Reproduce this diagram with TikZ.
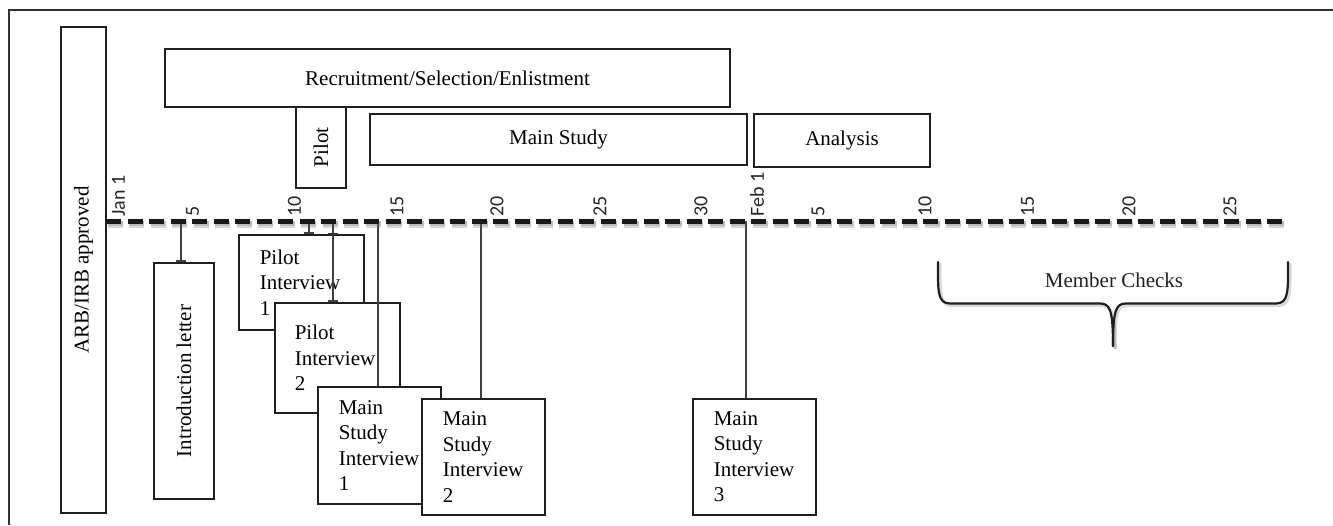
\documentclass[tikz,border=0pt]{standalone}
\usepackage{fontspec}
\setmainfont{Liberation Serif}
\newfontfamily\tickfont{Carlito}
\usetikzlibrary{arrows.meta,calc}
\begin{document}
\begin{tikzpicture}[x=1pt,y=-1pt,
  boxline/.style={draw=black!88, line width=1.6pt},
  phase/.style={boxline, fill=white, inner sep=0pt, font=\fontsize{21}{25}\selectfont},
  vphase/.style={phase, rotate=90},
  ibox/.style={boxline, fill=white, align=left, inner xsep=21pt, inner ysep=0pt,
    anchor=north west, font=\fontsize{21}{25.5}\selectfont},
  ticklab/.style={rotate=90, anchor=west, inner sep=0pt, font=\tickfont\fontsize{20}{20}\selectfont, text=black!85},
  conn/.style={draw=black!75, line width=1.1pt},
  barend/.style={conn, -{Bar[width=10pt, line width=2pt]}},
  shadowline/.style={black!60, opacity=0.25},
  dashline/.style={line width=5pt, dash pattern=on 15pt off 6.5pt}
]
\useasboundingbox (0,0) rectangle (1333,525);
% frame (cropped)
\draw[black!80, line width=1.2pt] (9,525) -- (9,10) -- (1333,10);

% phase boxes
\node[vphase, minimum width=486pt, minimum height=45pt] (arb) at (83.5,270) {ARB/IRB approved};
\node[phase, minimum width=565pt, minimum height=58pt] (recruit) at (447.5,78) {Recruitment/Selection/Enlistment};
\node[vphase, minimum width=81pt, minimum height=50pt] (pilot) at (321,147.5) {Pilot};
\node[phase, minimum width=377pt, minimum height=51pt] (main) at (558.5,139.5) {Main Study};
\node[phase, minimum width=176pt, minimum height=53pt] (analysis) at (842,140.5) {Analysis};

% timeline anchor coordinates
\coordinate (tstart) at (106,221);
\coordinate (tend) at (1287,221);
\coordinate (tintro) at (181,221);
\coordinate (tp1) at (309,221);
\coordinate (tp2) at (333,221);
\coordinate (tm1) at (378,221);
\coordinate (tm2) at (481,221);
\coordinate (tm3) at (746,221);

% introduction letter
\node[vphase, minimum width=236pt, minimum height=60pt] (intro) at (184,381) {Introduction letter};
\draw[barend] (tintro) -- (tintro |- intro.east);

% interview boxes
\node[ibox, text width=83pt, minimum height=95pt] (p1) at (238,234) {Pilot\\Interview\\1};
\draw[barend] (tp1) -- (tp1 |- p1.north);
\draw[barend] (tp2) -- (333,302);
\draw[line width=2pt, black!80] (328,234) -- (338,234);
\node[ibox, text width=85pt, inner xsep=20pt, minimum height=110pt] (p2) at (274,302) {Pilot\\Interview\\2};
\draw[conn] (tm1) -- (378,386);
\node[ibox, text width=81pt, minimum height=117pt] (m1) at (317,386) {Main\\Study\\Interview\\1};
\draw[conn] (tm2) -- (481,398);
\node[ibox, text width=81pt, minimum height=116pt] (m2) at (421,398) {Main\\Study\\Interview\\2};
\draw[conn] (tm3) -- (746,398);
\node[ibox, text width=81pt, minimum height=116pt] (m3) at (692,398) {Main\\Study\\Interview\\3};

% timeline with soft shadow
\draw[shadowline, dashline, line width=7pt] ($(tstart)+(1.5,3)$) -- ($(tend)+(1.5,3)$);
\draw[shadowline, dashline] ($(tstart)+(1.5,2.5)$) -- ($(tend)+(1.5,2.5)$);
\draw[black!90, dashline] (tstart) -- (tend);

% tick labels
\foreach \x/\t in {118.5/Jan 1, 192.5/5, 294.5/10, 397/15, 497/20, 600/25, 701/30,
                    757/Feb 1, 818/5, 925/10, 1027.5/15, 1129/20, 1230/25}
  \node[ticklab] at (\x,217) {\t};

% member checks brace
\coordinate (bl) at (938,262);
\coordinate (br) at (1288,262);
\coordinate (btip) at (1113,346);
\draw[shadowline, line width=3pt, line cap=round]
  ($(bl)+(2,2)$) .. controls (940,292) and (939,305.5) .. (952,305.5) -- (1100,305.5)
  .. controls (1112,305.5) and (1115,312) .. ($(btip)+(2,2)$);
\draw[shadowline, line width=3pt, line cap=round]
  ($(br)+(2,2)$) .. controls (1290,292) and (1291,305.5) .. (1278,305.5) -- (1128,305.5)
  .. controls (1117,305.5) and (1115,312) .. ($(btip)+(2,2)$);
\draw[black!88, line width=2.2pt, line cap=round]
  (bl) .. controls (938,290) and (937,303.5) .. (950,303.5) -- (1100,303.5)
  .. controls (1110,303.5) and (1113,310) .. (btip);
\draw[black!88, line width=2.2pt, line cap=round]
  (br) .. controls (1288,290) and (1289,303.5) .. (1276,303.5) -- (1126,303.5)
  .. controls (1116,303.5) and (1113,310) .. (btip);
\node[anchor=base, font=\fontsize{21}{25}\selectfont, text=black!88] (mc) at (1114,287) {Member Checks};
\end{tikzpicture}
\end{document}
